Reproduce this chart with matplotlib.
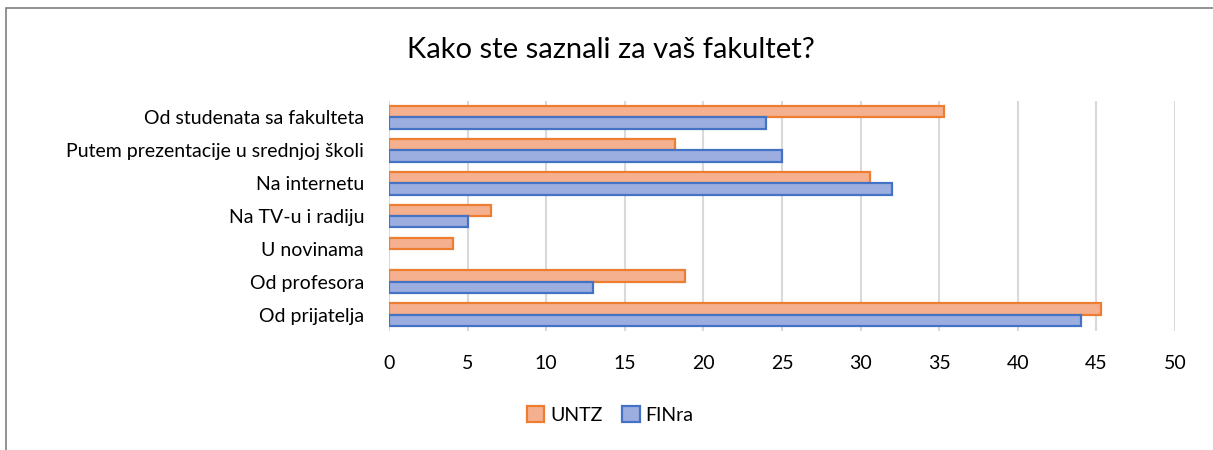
import matplotlib.pyplot as plt
import numpy as np
from matplotlib.patches import Rectangle

# categories listed top to bottom
categories = ["Od studenata sa fakulteta", "Putem prezentacije u srednjoj školi",
              "Na internetu", "Na TV-u i radiju", "U novinama",
              "Od profesora", "Od prijatelja"]
untz = [35.3, 18.2, 30.6, 6.5, 4.1, 18.8, 45.3]
finra = [24, 25, 32, 5, 0, 13, 44]
xticks = [0, 5, 10, 15, 20, 25, 30, 35, 40, 45, 50]

plt.rcParams['font.family'] = ['Lato', 'DejaVu Sans']

fig = plt.figure(figsize=(12.13, 4.5), dpi=100)
ax = fig.add_axes([0.3207, 0.2644, 0.648, 0.511])

y = np.arange(len(categories))[::-1]
h = 0.345
ax.barh(y + h / 2, untz, height=h, color="#F5B08F", edgecolor="#ED7D31",
        linewidth=[1.6 if v > 0 else 0 for v in untz], label="UNTZ", zorder=3)
ax.barh(y - h / 2, finra, height=h, color="#9CAEE0", edgecolor="#4472C4",
        linewidth=[1.6 if v > 0 else 0 for v in finra], label="FINra", zorder=3)

ax.set_xlim(0, 50)
ax.set_ylim(-0.5, len(categories) - 0.5)
ax.set_xticks(xticks)
ax.set_yticks(y)
ax.set_yticklabels(categories, fontsize=14)
ax.tick_params(axis='x', labelsize=14, length=0, pad=17)
ax.tick_params(axis='y', length=0, pad=18)
ax.grid(axis='x', color="#D9D9D9", linewidth=1.5, zorder=0)
for s in ax.spines.values():
    s.set_visible(False)

fig.text(0.504, 0.889, "Kako ste saznali za vaš fakultet?", fontsize=21,
         ha='center', va='center')

leg = fig.legend(loc='center', bbox_to_anchor=(0.503, 0.078), ncol=2,
                 frameon=False, fontsize=14, handlelength=0.9,
                 handleheight=0.9, columnspacing=1.0, handletextpad=0.3)

# chart frame
fig.patches.append(Rectangle((6 / 1213, -0.05), 1.1, 1.05 - 8 / 450,
                             transform=fig.transFigure, fill=False,
                             edgecolor="#7F7F7F", linewidth=1.2))

fig.savefig("out.png", dpi=100)
